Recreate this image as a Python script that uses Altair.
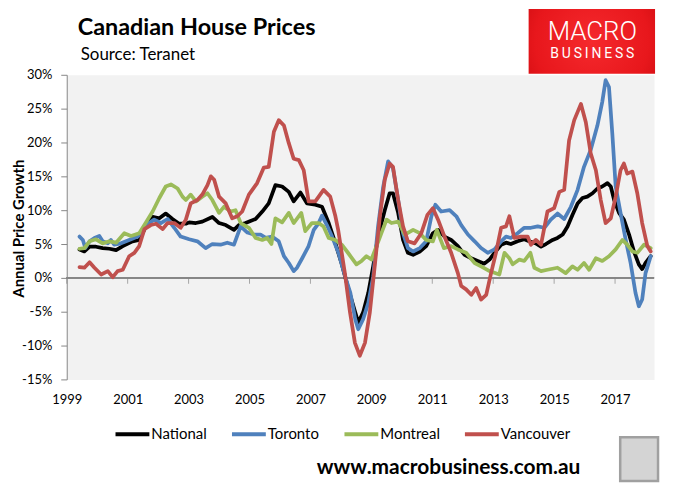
import altair as alt
import pandas as pd

# ---------------- data ----------------
series_names = ["National", "Toronto", "Montreal", "Vancouver"]
series_colors = ["#000000", "#4f81bd", "#9bbb59", "#c0504d"]

tick_years = [1999, 2001, 2003, 2005, 2007, 2009, 2011, 2013, 2015, 2017]
y_ticks = [-15, -10, -5, 0, 5, 10, 15, 20, 25, 30]

national = [
    (1999.42, 4.2), (1999.58, 3.9), (1999.75, 4.6), (1999.96, 4.6), (2000.18, 4.4),
    (2000.40, 4.3), (2000.62, 4.1), (2000.84, 4.7), (2001.16, 5.4), (2001.38, 5.6),
    (2001.60, 7.6), (2001.82, 9.0), (2002.04, 8.8), (2002.25, 9.5), (2002.47, 8.7),
    (2002.69, 8.0), (2002.91, 8.0), (2003.02, 8.2), (2003.24, 8.1), (2003.45, 8.3),
    (2003.78, 9.0), (2004.00, 8.1), (2004.22, 7.8), (2004.49, 7.1), (2004.65, 7.8),
    (2004.87, 8.1), (2005.20, 8.7), (2005.42, 9.8), (2005.63, 11.0), (2005.85, 13.7),
    (2006.07, 13.5), (2006.29, 12.7), (2006.45, 11.3), (2006.67, 12.6), (2006.89, 11.0),
    (2007.16, 10.8), (2007.38, 10.5), (2007.60, 8.1), (2007.82, 5.1), (2008.03, 2.0),
    (2008.25, -1.7), (2008.47, -5.1), (2008.57, -6.6), (2008.73, -5.1), (2008.90, -2.2),
    (2009.06, 1.7), (2009.22, 6.1), (2009.44, 10.0), (2009.60, 12.5), (2009.71, 12.5),
    (2009.88, 9.6), (2010.04, 5.6), (2010.20, 3.7), (2010.37, 3.4), (2010.59, 3.9),
    (2010.80, 4.7), (2011.02, 6.6), (2011.19, 7.1), (2011.40, 6.1), (2011.62, 5.6),
    (2011.84, 4.7), (2012.06, 3.4), (2012.28, 2.9), (2012.49, 2.5), (2012.71, 2.1),
    (2012.88, 2.7), (2013.04, 3.7), (2013.26, 4.9), (2013.42, 5.2), (2013.58, 5.0),
    (2013.80, 5.4), (2014.02, 5.7), (2014.18, 5.4), (2014.40, 5.1), (2014.57, 4.6),
    (2014.73, 5.0), (2014.95, 5.6), (2015.11, 5.9), (2015.28, 6.4), (2015.44, 7.6),
    (2015.60, 9.3), (2015.77, 11.0), (2015.93, 11.8), (2016.09, 12.0), (2016.26, 12.5),
    (2016.42, 13.2), (2016.58, 13.5), (2016.75, 14.0), (2016.86, 13.5), (2016.97, 11.5),
    (2017.13, 9.6), (2017.29, 8.6), (2017.46, 6.4), (2017.62, 3.9), (2017.78, 2.0),
    (2017.89, 1.3), (2018.00, 2.2), (2018.17, 3.2),
]

toronto = [
    (1999.42, 6.1), (1999.53, 5.6), (1999.61, 4.4), (1999.75, 5.4), (1999.91, 5.9),
    (2000.07, 6.2), (2000.18, 5.4), (2000.35, 5.1), (2000.45, 5.6), (2000.56, 4.9),
    (2000.78, 5.1), (2001.05, 5.6), (2001.33, 6.1), (2001.60, 7.8), (2001.87, 8.6),
    (2002.09, 8.1), (2002.31, 8.7), (2002.53, 7.4), (2002.74, 6.1), (2003.02, 5.7),
    (2003.29, 5.4), (2003.56, 4.4), (2003.78, 5.0), (2004.05, 4.9), (2004.27, 5.2),
    (2004.49, 4.9), (2004.71, 7.6), (2004.93, 6.7), (2005.14, 6.4), (2005.36, 6.4),
    (2005.53, 5.9), (2005.74, 6.1), (2005.96, 5.4), (2006.13, 3.2), (2006.29, 2.2),
    (2006.45, 1.0), (2006.56, 1.5), (2006.73, 2.9), (2006.94, 4.7), (2007.11, 7.1),
    (2007.27, 8.1), (2007.38, 9.2), (2007.54, 7.8), (2007.71, 6.1), (2007.92, 3.7),
    (2008.14, 0.2), (2008.31, -2.2), (2008.47, -6.1), (2008.57, -7.6), (2008.73, -6.1),
    (2008.90, -3.7), (2009.06, 0.2), (2009.22, 7.6), (2009.39, 13.5), (2009.55, 17.2),
    (2009.71, 16.2), (2009.88, 11.5), (2010.04, 6.6), (2010.20, 4.4), (2010.37, 3.9),
    (2010.59, 4.4), (2010.80, 5.4), (2010.97, 9.1), (2011.10, 10.8), (2011.29, 9.8),
    (2011.57, 10.0), (2011.79, 9.1), (2011.95, 7.8), (2012.17, 6.4), (2012.39, 5.4),
    (2012.60, 4.4), (2012.82, 3.7), (2013.04, 4.2), (2013.26, 5.4), (2013.42, 6.1),
    (2013.58, 5.9), (2013.80, 6.6), (2014.02, 7.4), (2014.24, 7.4), (2014.46, 7.6),
    (2014.68, 7.4), (2014.89, 8.6), (2015.11, 9.5), (2015.33, 8.7), (2015.55, 10.5),
    (2015.77, 13.0), (2015.98, 16.4), (2016.20, 18.9), (2016.42, 22.5), (2016.58, 26.0),
    (2016.69, 29.2), (2016.80, 28.2), (2016.91, 21.3), (2017.02, 13.5), (2017.18, 9.6),
    (2017.35, 5.6), (2017.51, 2.2), (2017.67, -2.2), (2017.78, -4.2), (2017.89, -3.2),
    (2018.00, 0.7), (2018.17, 3.2),
]

montreal = [
    (1999.42, 4.3), (1999.58, 4.4), (1999.75, 5.4), (1999.96, 5.7), (2000.18, 5.1),
    (2000.40, 5.4), (2000.62, 5.2), (2000.89, 6.6), (2001.11, 6.2), (2001.38, 6.6),
    (2001.60, 8.2), (2001.82, 9.8), (2002.04, 11.8), (2002.25, 13.5), (2002.42, 13.8),
    (2002.64, 13.2), (2002.80, 12.0), (2002.91, 11.5), (2003.07, 12.3), (2003.24, 11.3),
    (2003.45, 12.0), (2003.62, 12.5), (2003.78, 11.5), (2004.00, 9.6), (2004.16, 10.5),
    (2004.38, 9.8), (2004.54, 10.0), (2004.71, 8.1), (2004.98, 7.4), (2005.20, 5.9),
    (2005.42, 5.6), (2005.58, 5.9), (2005.72, 5.0), (2005.85, 8.8), (2006.07, 8.2),
    (2006.29, 9.6), (2006.45, 8.1), (2006.70, 9.6), (2006.83, 6.9), (2007.05, 8.1),
    (2007.27, 8.1), (2007.43, 7.6), (2007.60, 5.9), (2007.82, 5.6), (2008.03, 4.9),
    (2008.25, 3.6), (2008.51, 2.0), (2008.68, 2.5), (2008.84, 3.2), (2009.00, 2.7),
    (2009.17, 4.7), (2009.33, 6.6), (2009.50, 8.6), (2009.66, 8.1), (2009.88, 8.3),
    (2010.10, 6.4), (2010.37, 7.1), (2010.59, 6.6), (2010.80, 5.6), (2011.02, 5.4),
    (2011.15, 7.1), (2011.38, 4.4), (2011.62, 4.7), (2011.84, 4.2), (2012.11, 3.7),
    (2012.39, 2.2), (2012.60, 1.7), (2012.88, 1.0), (2013.20, 0.5), (2013.37, 3.7),
    (2013.53, 2.9), (2013.64, 2.0), (2013.86, 2.7), (2014.02, 2.5), (2014.22, 3.7),
    (2014.35, 1.5), (2014.57, 1.0), (2014.78, 1.2), (2015.11, 1.5), (2015.38, 0.7),
    (2015.60, 1.7), (2015.77, 1.2), (2015.98, 2.2), (2016.15, 1.2), (2016.37, 2.9),
    (2016.58, 2.5), (2016.80, 3.2), (2017.02, 4.2), (2017.24, 5.6), (2017.40, 4.9),
    (2017.57, 3.9), (2017.73, 3.7), (2017.95, 4.9), (2018.17, 4.4),
]

vancouver = [
    (1999.42, 1.6), (1999.58, 1.5), (1999.75, 2.3), (1999.91, 1.5), (2000.13, 0.5),
    (2000.35, 1.0), (2000.51, 0.1), (2000.67, 1.0), (2000.84, 1.2), (2001.05, 3.2),
    (2001.22, 3.7), (2001.38, 4.7), (2001.55, 7.2), (2001.76, 7.8), (2001.93, 8.0),
    (2002.15, 7.2), (2002.31, 8.1), (2002.53, 8.1), (2002.74, 7.4), (2002.91, 8.6),
    (2003.07, 11.0), (2003.29, 11.5), (2003.45, 12.3), (2003.62, 13.7), (2003.73, 15.0),
    (2003.84, 14.5), (2004.00, 12.0), (2004.22, 11.0), (2004.43, 8.8), (2004.60, 9.1),
    (2004.76, 9.8), (2004.98, 12.3), (2005.25, 14.0), (2005.47, 16.3), (2005.63, 16.4),
    (2005.80, 21.6), (2005.96, 23.3), (2006.13, 22.5), (2006.29, 19.9), (2006.45, 17.6),
    (2006.62, 17.4), (2006.78, 15.9), (2006.94, 11.3), (2007.16, 11.3), (2007.43, 13.0),
    (2007.65, 12.0), (2007.82, 9.1), (2007.91, 7.1), (2008.13, 0.7), (2008.30, -5.1),
    (2008.46, -9.6), (2008.62, -11.5), (2008.79, -9.6), (2008.95, -5.1), (2009.11, 1.7),
    (2009.28, 9.1), (2009.44, 14.5), (2009.60, 16.9), (2009.71, 16.4), (2009.88, 11.5),
    (2010.04, 7.6), (2010.20, 5.4), (2010.42, 5.1), (2010.64, 6.6), (2010.84, 9.3),
    (2011.02, 10.3), (2011.19, 8.6), (2011.40, 6.1), (2011.62, 3.7), (2011.84, 0.7),
    (2011.95, -1.2), (2012.11, -1.7), (2012.28, -2.5), (2012.44, -1.5), (2012.60, -3.2),
    (2012.77, -2.5), (2012.93, 0.7), (2013.09, 3.7), (2013.26, 7.4), (2013.42, 7.6),
    (2013.53, 9.1), (2013.69, 5.9), (2013.91, 6.1), (2014.13, 6.1), (2014.24, 4.9),
    (2014.40, 5.6), (2014.57, 4.9), (2014.78, 9.8), (2015.00, 10.3), (2015.17, 12.7),
    (2015.33, 13.0), (2015.49, 20.3), (2015.66, 23.3), (2015.88, 25.7), (2016.04, 23.0),
    (2016.20, 18.4), (2016.37, 15.9), (2016.53, 11.5), (2016.69, 8.1), (2016.86, 8.8),
    (2017.02, 12.0), (2017.18, 15.9), (2017.29, 16.9), (2017.40, 15.4), (2017.57, 15.7),
    (2017.73, 12.5), (2017.89, 8.1), (2018.06, 4.7), (2018.17, 3.9),
]

title_text = "Canadian House Prices"
source_text = "Source: Teranet"
y_title = "Annual Price Growth"
site_text = "www.macrobusiness.com.au"
logo_top = "MACRO"
logo_bottom = "B\u2009U\u2009S\u2009I\u2009N\u2009E\u2009S\u2009S"

# ---------------- build tables ----------------
rows = []
for name, pts in zip(series_names, [national, toronto, montreal, vancouver]):
    for yr, v in pts:
        rows.append({"series": name, "year": yr, "growth": v})
df = pd.DataFrame(rows)
zero_df = pd.DataFrame({"year": tick_years, "growth": [0] * len(tick_years)})

W, H = 590, 306
FONT = "Lato"
AXIS_GRAY = "#868686"
x_scale = alt.Scale(domain=[1999, 2018.28], nice=False, zero=False)
y_scale = alt.Scale(domain=[-15, 30], nice=False, zero=False)

x_axis = alt.Axis(values=tick_years, format="d", domain=False, ticks=False, tickSize=0,
                  grid=False, labelFlush=False, labelPadding=14, labelFontSize=13,
                  labelFont=FONT, labelColor="#000000", title=None, orient="bottom")
y_axis = alt.Axis(values=y_ticks, labelExpr="datum.value + '%'", grid=False,
                  domainColor=AXIS_GRAY, tickColor=AXIS_GRAY, tickSize=6,
                  labelPadding=9, labelFontSize=13, labelFont=FONT, labelColor="#000000",
                  title=y_title, titleFont=FONT, titleFontSize=15, titleFontWeight="bold",
                  titleColor="#000000", titleAngle=270, titleX=-48, titleY=154,
                  titleAlign="center", titleBaseline="middle")

X = alt.X("year:Q", scale=x_scale, axis=x_axis)
Y = alt.Y("growth:Q", scale=y_scale, axis=y_axis)

zero_line = alt.Chart(zero_df).mark_rule(color=AXIS_GRAY, strokeWidth=1).encode(y=Y)
zero_ticks = alt.Chart(zero_df).mark_tick(
    orient="vertical", size=6, thickness=1, color=AXIS_GRAY, yOffset=3
).encode(x=X, y=Y)

lines = alt.Chart(df).mark_line(strokeWidth=3.75, strokeJoin="round", strokeCap="round").encode(
    x=X,
    y=Y,
    color=alt.Color("series:N", sort=series_names,
                    scale=alt.Scale(domain=series_names, range=series_colors),
                    legend=alt.Legend(title=None, orient="none", legendX=47, legendY=342,
                                      direction="horizontal", columns=4, symbolType="stroke",
                                      symbolStrokeWidth=4, symbolSize=1156, labelFont=FONT,
                                      labelFontSize=15, labelColor="#000000", labelOffset=0,
                                      columnPadding=17, padding=0)),
)

def text_layer(txt, x, y, size, weight="normal", align="left", color="#000000", font=FONT):
    return alt.Chart(pd.DataFrame({"label": [txt]})).mark_text(
        align=align, baseline="alphabetic", fontSize=size, fontWeight=weight,
        font=font, color=color
    ).encode(text="label:N", x=alt.value(x), y=alt.value(y))

title = text_layer(title_text, 11, -40, 23.5, "bold")
source = text_layer(source_text, 14, -15, 17)
site = text_layer(site_text, 516, 401, 21, "bold", align="right")

logo_box = alt.Chart(pd.DataFrame({"k": [1]})).mark_rect(
    fill=alt.Gradient(gradient="radial",
                      stops=[alt.GradientStop(color="#f5292d", offset=0),
                             alt.GradientStop(color="#e8171c", offset=0.6),
                             alt.GradientStop(color="#c4080c", offset=1)],
                      r2=0.75)
).encode(x=alt.value(464), x2=alt.value(591), y=alt.value(-66), y2=alt.value(-1))
logo1 = text_layer(logo_top, 528, -35, 26, 300, align="center", color="#ffffff", font="Roboto")
logo2 = text_layer(logo_bottom, 528, -17, 14, "normal", align="center", color="#ffffff", font="Roboto")

wolf = alt.Chart(pd.DataFrame({"k": [1]})).mark_rect(
    fill="#d4d4d4", stroke="#a0a0a0", strokeWidth=2.5
).encode(x=alt.value(556), x2=alt.value(594), y=alt.value(364), y2=alt.value(408))

chart = alt.layer(
    zero_line, zero_ticks, lines, title, source, site, logo_box, logo1, logo2, wolf
).properties(
    width=W, height=H,
    autosize=alt.AutoSizeParams(type="none"),
    padding={"left": 59, "top": 66, "right": 12, "bottom": 110},
    background="white",
).configure_view(fill="#f2f2f2", stroke="transparent")

chart.save("out.html", embed_options={"renderer": "svg", "actions": False})
